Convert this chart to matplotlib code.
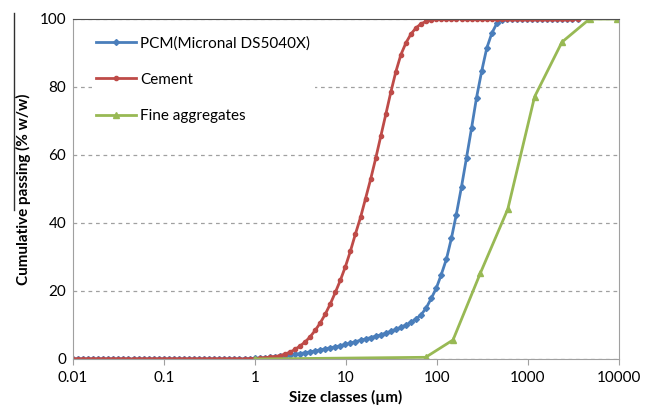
import matplotlib
matplotlib.use("Agg")
import matplotlib.pyplot as plt
from matplotlib.lines import Line2D

plt.rcParams['font.family'] = ['Lato', 'DejaVu Sans']

# Size classes (um) of the laser-diffraction analyser
sizes = [0.0100, 0.0114, 0.0129, 0.0147, 0.0167, 0.0189, 0.0215, 0.0244, 0.0278, 0.0315,
         0.0358, 0.0407, 0.0463, 0.0526, 0.0597, 0.0679, 0.0771, 0.0876, 0.0995, 0.113,
         0.128, 0.146, 0.166, 0.188, 0.214, 0.243, 0.276, 0.314, 0.357, 0.405,
         0.460, 0.523, 0.594, 0.675, 0.767, 0.872, 0.991, 1.13, 1.28, 1.45,
         1.65, 1.88, 2.13, 2.42, 2.75, 3.12, 3.55, 4.03, 4.58, 5.21,
         5.92, 6.72, 7.64, 8.68, 9.86, 11.2, 12.7, 14.5, 16.4, 18.7,
         21.2, 24.1, 27.4, 31.1, 35.3, 40.1, 45.6, 51.8, 58.9, 66.9,
         76.0, 86.4, 98.1, 111, 127, 144, 163, 186, 211, 240,
         272, 310, 352, 400, 454, 516, 586, 666, 756, 859,
         976, 1110, 1260, 1430, 1630, 1850, 2100, 2390, 2710, 3080, 3500]

pcm = [0]*33 + [0.02, 0.06, 0.11, 0.18, 0.26, 0.36, 0.48,
       0.62, 0.78, 0.95, 1.15, 1.35, 1.6, 1.85, 2.1, 2.4, 2.7,
       3.0, 3.3, 3.6, 3.9, 4.3, 4.7, 5.1, 5.5, 5.9, 6.3,
       6.7, 7.1, 7.6, 8.1, 8.7, 9.3, 10.0, 10.8, 11.8, 13.0,
       15.0, 17.8, 20.8, 24.7, 29.4, 35.5, 42.5, 50.7, 59.2, 68.0,
       76.9, 84.7, 91.4, 95.8, 98.7, 99.8, 100, 100, 100, 100,
       100, 100, 100, 100, 100, 100, 100, 100, 100, 100, 100]

cement = [0]*35 + [0.05, 0.12, 0.22, 0.35, 0.5,
          0.72, 1.0, 1.45, 2.0, 2.8, 3.8, 5.0, 6.5, 8.4, 10.6,
          13.2, 16.2, 19.6, 23.2, 27.2, 31.8, 36.8, 41.8, 47.2, 53.0,
          59.0, 65.5, 72.0, 78.5, 84.5, 89.5, 93.0, 95.6, 97.4, 98.6,
          99.3, 99.7, 99.9, 100, 100, 100, 100, 100, 100, 100,
          100, 100, 100, 100, 100, 100, 100, 100, 100, 100,
          100, 100, 100, 100, 100, 100, 100, 100, 100, 100, 100]

fine_sizes = [1, 75, 150, 300, 600, 1180, 2360, 4750, 9500]
fine = [0, 0.5, 5.6, 25.3, 44.1, 77.1, 93.2, 100, 100]

c_blue = '#4A7EBB'
c_red = '#BE4B48'
c_green = '#98B954'

fig = plt.figure(figsize=(6.56, 4.05), dpi=100)
ax = fig.add_axes([73/656, 1-359/405, (619-73)/656, (359-19)/405])

ax.plot(sizes, pcm, color=c_blue, lw=2, marker='D', ms=3, label='PCM(Micronal DS5040X)')
ax.plot(sizes, cement, color=c_red, lw=2, marker='o', ms=3, label='Cement')
ax.plot(fine_sizes, fine, color=c_green, lw=2, marker='^', ms=4, label='Fine aggregates')

ax.set_xscale('log')
ax.set_xlim(0.01, 10000)
ax.set_ylim(0, 100)
ax.set_xticks([0.01, 0.1, 1, 10, 100, 1000, 10000])
ax.set_xticklabels(['0.01', '0.1', '1', '10', '100', '1000', '10000'])
ax.minorticks_off()
ax.set_yticks([0, 20, 40, 60, 80, 100])
ax.yaxis.grid(True, color='#A0A0A0', ls=(0, (3, 3)), lw=0.9)
ax.set_axisbelow(True)
ax.tick_params(axis='x', length=4, color='#A0A0A0', labelsize=11, pad=5)
ax.tick_params(axis='y', length=0, labelsize=11, pad=5)
for s in ['left', 'bottom', 'right']:
    ax.spines[s].set_color('#A0A0A0')
ax.spines['top'].set_color('#505050')

ax.set_xlabel('Size classes (µm)', fontweight='bold', fontsize=11, labelpad=3)
ax.set_ylabel('Cumulative passing (% w/w)', fontweight='bold', fontsize=11, labelpad=6)

leg = ax.legend(loc='upper left', bbox_to_anchor=(0.02, 0.985), frameon=True,
                fontsize=11, handlelength=2.6, handletextpad=0.3, labelspacing=1.45,
                borderpad=0.3)
leg.get_frame().set_facecolor('white')
leg.get_frame().set_edgecolor('none')
leg.get_frame().set_alpha(1)

fig.add_artist(Line2D([14/656, 14/656], [1-13/405, 1-210/405], color='#303030', lw=1))

fig.savefig('out.png', dpi=100)
